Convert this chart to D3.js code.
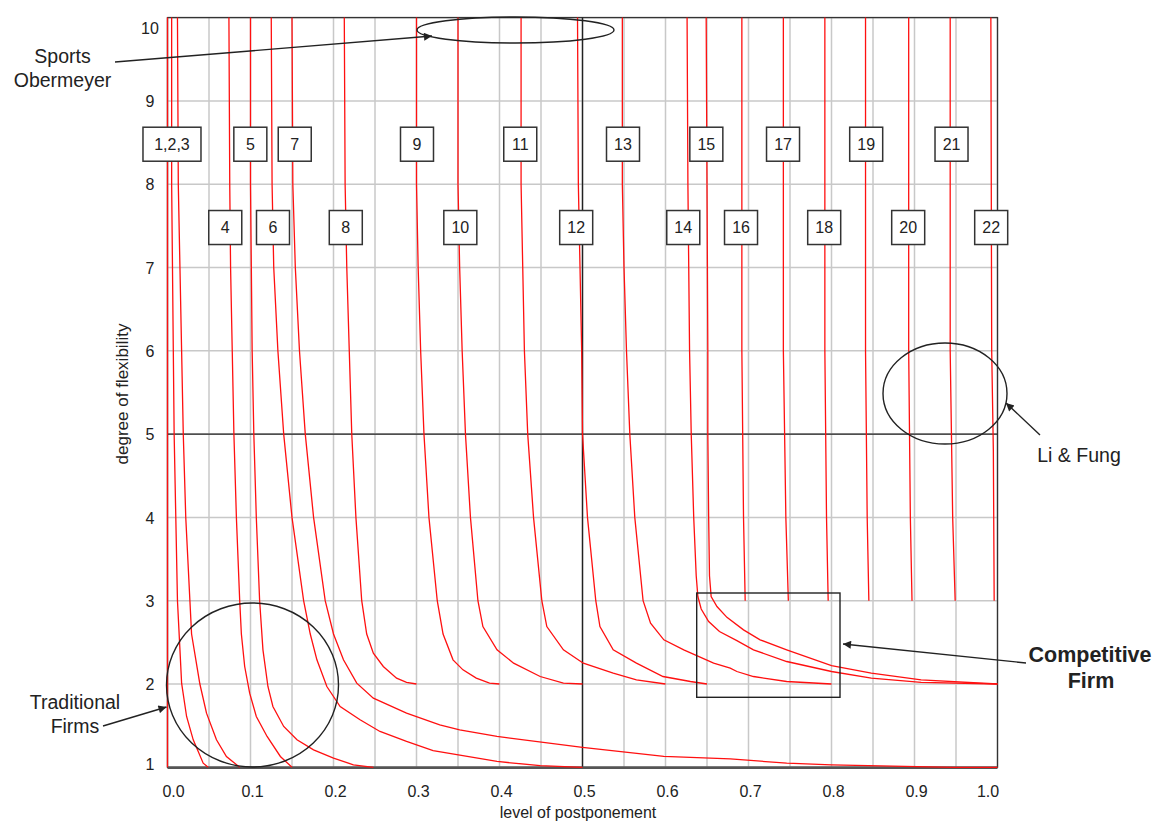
<!DOCTYPE html>
<html>
<head>
<meta charset="utf-8">
<script src="https://cdn.jsdelivr.net/npm/d3@7"></script>
<style>
body { margin: 0; background: #fff; }
svg { font-family: "Liberation Sans", Arial, sans-serif; }
</style>
</head>
<body>
<svg id="chart" width="1158" height="822"></svg>
<script>
var size = {width: 1158, height: 822};
var plot = {left: 167.5, right: 997.5, top: 17.6, bottom: 767.3};

// tick values / labels
var xTicks = [0, 0.1, 0.2, 0.3, 0.4, 0.5, 0.6, 0.7, 0.8, 0.9, 1.0];
var yTicks = [1, 2, 3, 4, 5, 6, 7, 8, 9, 10];
var xGrid = [0, 0.05, 0.1, 0.15, 0.2, 0.25, 0.3, 0.35, 0.4, 0.45, 0.5, 0.55, 0.6, 0.65, 0.7, 0.75, 0.8, 0.85, 0.9, 0.95, 1.0];

// 22 iso-curves, [postponement, flexibility]
var curves = [
  [[0,10],[0,1]],
  [[0.005,10],[0.005,8],[0.007,6],[0.008,5],[0.010,4],[0.012,3],[0.015,2.41],[0.017,2.01],[0.023,1.61],[0.031,1.33],[0.043,1.05],[0.049,1.0]],
  [[0.012,10],[0.013,8],[0.015,7],[0.017,6],[0.019,5],[0.022,4],[0.027,3],[0.029,2.6],[0.039,2.0],[0.047,1.65],[0.059,1.33],[0.071,1.13],[0.087,1.0]],
  [[0.074,10],[0.075,8],[0.076,7],[0.078,6],[0.080,5],[0.083,4],[0.087,3],[0.089,2.6],[0.093,2.21],[0.099,1.89],[0.107,1.61],[0.120,1.37],[0.136,1.13],[0.150,1.0]],
  [[0.1,10],[0.1,8],[0.102,6],[0.104,5],[0.107,4],[0.111,3],[0.115,2.41],[0.121,1.97],[0.127,1.73],[0.140,1.49],[0.156,1.33],[0.176,1.21],[0.2,1.11],[0.224,1.03],[0.248,1.0]],
  [[0.125,10],[0.126,8],[0.128,7],[0.133,6],[0.140,5],[0.150,4],[0.164,3],[0.172,2.6],[0.180,2.29],[0.192,1.97],[0.208,1.73],[0.232,1.57],[0.256,1.43],[0.288,1.31],[0.32,1.2],[0.397,1.07],[0.449,1.02],[0.5,1.0]],
  [[0.15,10],[0.151,8],[0.154,7],[0.159,6],[0.166,5],[0.176,4],[0.19,3],[0.2,2.6],[0.212,2.29],[0.228,2.01],[0.248,1.83],[0.288,1.65],[0.328,1.51],[0.352,1.45],[0.397,1.37],[0.5,1.24],[0.598,1.13],[0.678,1.1],[0.746,1.05],[0.8,1.03],[0.947,1.0],[1.0,1.0]],
  [[0.213,10],[0.214,8],[0.216,7],[0.219,6],[0.222,5],[0.227,4],[0.234,3],[0.24,2.6],[0.248,2.37],[0.26,2.21],[0.276,2.07],[0.288,2.02],[0.3,2.0]],
  [[0.3,10],[0.3,8],[0.302,7],[0.305,6],[0.309,5],[0.315,4],[0.325,3],[0.332,2.6],[0.344,2.29],[0.356,2.17],[0.372,2.07],[0.388,2.01],[0.4,2.0]],
  [[0.35,10],[0.35,8],[0.352,7],[0.355,6],[0.359,5],[0.365,4],[0.374,3],[0.38,2.69],[0.397,2.41],[0.417,2.25],[0.449,2.09],[0.477,2.01],[0.5,2.0]],
  [[0.426,10],[0.426,8],[0.428,7],[0.43,6],[0.434,5],[0.441,4],[0.451,3],[0.457,2.69],[0.477,2.41],[0.501,2.25],[0.537,2.13],[0.565,2.05],[0.6,2.0]],
  [[0.494,10],[0.495,8],[0.497,7],[0.499,6],[0.5,5],[0.506,4],[0.516,3],[0.521,2.69],[0.537,2.41],[0.565,2.25],[0.597,2.09],[0.63,2.03],[0.65,2.0]],
  [[0.548,10],[0.548,8],[0.55,7],[0.553,6],[0.557,5],[0.563,4],[0.573,3],[0.582,2.73],[0.598,2.53],[0.622,2.41],[0.658,2.25],[0.678,2.19],[0.686,2.15],[0.706,2.09],[0.746,2.03],[0.8,2.0]],
  [[0.626,10],[0.627,8],[0.629,6],[0.631,5],[0.634,4],[0.637,3.3],[0.639,3.05],[0.643,2.9],[0.652,2.75],[0.665,2.63],[0.686,2.52],[0.706,2.41],[0.746,2.27],[0.8,2.15],[0.848,2.07],[0.908,2.02],[1.0,2.0]],
  [[0.649,10],[0.65,8],[0.651,6],[0.651,5],[0.652,4],[0.653,3.3],[0.655,3.05],[0.662,2.93],[0.674,2.8],[0.694,2.65],[0.714,2.53],[0.746,2.41],[0.8,2.22],[0.848,2.13],[0.908,2.05],[1.0,2.0]],
  [[0.692,10],[0.692,6],[0.694,4],[0.696,3]],
  [[0.742,10],[0.742,6],[0.745,4],[0.748,3]],
  [[0.792,10],[0.792,6],[0.794,4],[0.796,3]],
  [[0.841,10],[0.841,6],[0.843,4],[0.845,3]],
  [[0.893,10],[0.893,6],[0.895,4],[0.897,3]],
  [[0.943,10],[0.943,6],[0.946,4],[0.949,3]],
  [[0.992,10],[0.993,6],[0.995,4.8],[0.996,3]]
];

// numbered boxes
var boxLabels = ["1,2,3","5","7","9","11","13","15","17","19","21","4","6","8","10","12","14","16","18","20","22"];
var boxX = [0.0054,0.0998,0.1533,0.3006,0.425,0.5488,0.6492,0.7416,0.8418,0.9446,0.0696,0.1271,0.2148,0.3528,0.4924,0.6214,0.691,0.7912,0.8924,0.9924];
var boxY = [8.48,8.48,8.48,8.48,8.48,8.48,8.48,8.48,8.48,8.48,7.48,7.48,7.48,7.48,7.48,7.48,7.48,7.48,7.48,7.48];

var svg = d3.select("#chart")
    .attr("width", size.width)
    .attr("height", size.height);

svg.append("rect").attr("width", size.width).attr("height", size.height).attr("fill", "#fff");

var x = d3.scaleLinear().domain([0, 1]).range([plot.left, plot.right]);
var y = d3.scaleLinear().domain([1, 10]).range([plot.bottom, plot.top]);

// grid
var grid = svg.append("g").attr("id", "grid");
grid.selectAll("line.v").data(xGrid).enter().append("line")
    .attr("class", "v")
    .attr("x1", d => x(d)).attr("x2", d => x(d))
    .attr("y1", y(10)).attr("y2", y(1))
    .attr("stroke", "#c8c8c8").attr("stroke-width", 1.5);
grid.selectAll("line.h").data(yTicks).enter().append("line")
    .attr("class", "h")
    .attr("x1", x(0)).attr("x2", x(1))
    .attr("y1", d => y(d)).attr("y2", d => y(d))
    .attr("stroke", "#c8c8c8").attr("stroke-width", 1.5);

// frame + quadrant lines
svg.append("rect")
    .attr("x", x(0)).attr("y", y(10))
    .attr("width", x(1) - x(0)).attr("height", y(1) - y(10))
    .attr("fill", "none").attr("stroke", "#333").attr("stroke-width", 1.3);
svg.append("line").attr("x1", x(0.5)).attr("x2", x(0.5)).attr("y1", y(10)).attr("y2", y(1))
    .attr("stroke", "#222").attr("stroke-width", 1.4);
svg.append("line").attr("x1", x(0)).attr("x2", x(1)).attr("y1", y(5)).attr("y2", y(5))
    .attr("stroke", "#222").attr("stroke-width", 1.4);
svg.append("line").attr("x1", x(0)).attr("x2", x(1)).attr("y1", y(1) + 0.5).attr("y2", y(1) + 0.5)
    .attr("stroke", "#555").attr("stroke-width", 2.5);

// curves
var line = d3.line().x(d => x(d[0])).y(d => y(d[1]));
svg.append("g").attr("id", "curves")
    .selectAll("path").data(curves).enter().append("path")
    .attr("d", line)
    .attr("fill", "none")
    .attr("stroke", "#ff1010")
    .attr("stroke-width", 1.3);

// axes
var xAxis = d3.axisBottom(x).tickValues(xTicks).tickFormat(d3.format(".1f")).tickSize(0).tickPadding(18);
var gx = svg.append("g")
    .attr("transform", "translate(0," + plot.bottom + ")")
    .call(xAxis);
gx.select(".domain").remove();
gx.selectAll("text")
    .attr("font-size", 16).attr("font-family", "Liberation Sans, Arial, sans-serif").attr("fill", "#222")
    .attr("dx", d => d === 0 ? 5.5 : (d === 1 ? -10 : 1.5));

var yAxis = d3.axisLeft(y).tickValues(yTicks).tickSize(0).tickPadding(0);
var gy = svg.append("g")
    .attr("transform", "translate(150,0)")
    .call(yAxis);
gy.select(".domain").remove();
gy.selectAll("text")
    .attr("text-anchor", "middle")
    .attr("x", 0)
    .attr("font-size", 16).attr("font-family", "Liberation Sans, Arial, sans-serif").attr("fill", "#222")
    .attr("dy", d => d === 10 ? "1em" : (d === 1 ? "0.12em" : "0.35em"));

svg.append("text")
    .attr("x", 578).attr("y", 818)
    .attr("text-anchor", "middle").attr("font-size", 16).attr("fill", "#222")
    .text("level of postponement");
svg.append("text")
    .attr("transform", "translate(128,394) rotate(-90)")
    .attr("text-anchor", "middle").attr("font-size", 17).attr("fill", "#222")
    .text("degree of flexibility");

// numbered boxes
var boxes = svg.append("g").attr("id", "boxes")
    .selectAll("g").data(boxLabels).enter().append("g")
    .attr("transform", (d, i) => "translate(" + x(boxX[i]) + "," + y(boxY[i]) + ")");
boxes.append("rect")
    .attr("x", d => d.length > 2 ? -29 : -16.5)
    .attr("y", -17)
    .attr("width", d => d.length > 2 ? 58 : 33)
    .attr("height", 34)
    .attr("fill", "#fff").attr("stroke", "#333").attr("stroke-width", 1.5);
boxes.append("text")
    .attr("text-anchor", "middle").attr("dy", "0.36em")
    .attr("font-size", 16).attr("fill", "#222")
    .text(d => d);

// annotations
svg.append("defs").append("marker")
    .attr("id", "arrow").attr("viewBox", "0 0 10 10")
    .attr("refX", 10).attr("refY", 5)
    .attr("markerWidth", 11).attr("markerHeight", 8)
    .attr("markerUnits", "userSpaceOnUse")
    .attr("orient", "auto")
    .append("path").attr("d", "M0,0L10,5L0,10z").attr("fill", "#222");

var note = svg.append("g").attr("id", "notes")
    .attr("fill", "none").attr("stroke", "#222").attr("stroke-width", 1.4);

note.append("ellipse").attr("cx", 515.5).attr("cy", 30).attr("rx", 98.5).attr("ry", 13);
note.append("ellipse").attr("cx", 945).attr("cy", 393.5).attr("rx", 62).attr("ry", 50.5);
note.append("ellipse").attr("cx", 252.5).attr("cy", 685).attr("rx", 86).attr("ry", 82);
note.append("rect").attr("x", 696.7).attr("y", 593).attr("width", 143.3).attr("height", 104.3);

var arrows = [
  [115, 62, 432, 36],
  [1040, 435, 1006, 403],
  [1026, 663, 843, 644],
  [103, 726, 166.5, 707]
];
note.selectAll("line.arr").data(arrows).enter().append("line")
    .attr("class", "arr")
    .attr("x1", d => d[0]).attr("y1", d => d[1])
    .attr("x2", d => d[2]).attr("y2", d => d[3])
    .attr("marker-end", "url(#arrow)");

var noteText = [
  ["Sports", 62.5, 63, 19.5, "normal"],
  ["Obermeyer", 62.5, 87, 19.5, "normal"],
  ["Li & Fung", 1079, 461.5, 19.5, "normal"],
  ["Traditional", 75, 709, 19.5, "normal"],
  ["Firms", 75, 733, 19.5, "normal"],
  ["Competitive", 1090, 661.5, 21.5, "bold"],
  ["Firm", 1091, 688, 21.5, "bold"]
];
svg.append("g").selectAll("text").data(noteText).enter().append("text")
    .attr("x", d => d[1]).attr("y", d => d[2])
    .attr("text-anchor", "middle")
    .attr("font-size", d => d[3]).attr("font-weight", d => d[4])
    .attr("fill", "#222")
    .text(d => d[0]);
</script>
</body>
</html>
